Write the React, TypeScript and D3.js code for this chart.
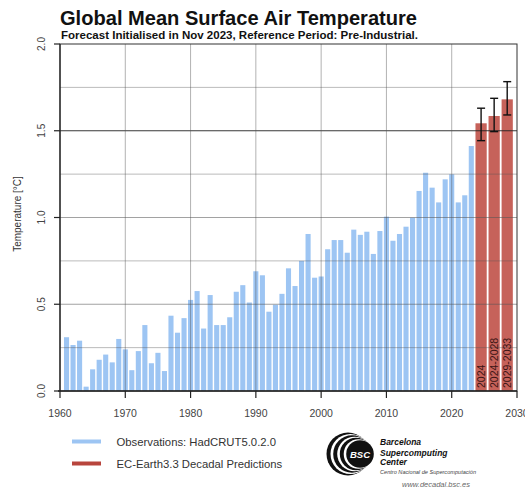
import React from "react";
import * as d3 from "d3";

const obsYears: number[] = d3.range(1961, 2024);
const obsValues: number[] = [
  0.31, 0.265, 0.29, 0.025, 0.125, 0.18, 0.21, 0.165, 0.3, 0.24,
  0.12, 0.23, 0.38, 0.16, 0.22, 0.115, 0.434, 0.336, 0.42, 0.525,
  0.576, 0.36, 0.553, 0.38, 0.38, 0.425, 0.572, 0.61, 0.51, 0.69,
  0.667, 0.457, 0.497, 0.56, 0.707, 0.605, 0.75, 0.905, 0.653, 0.66,
  0.817, 0.87, 0.87, 0.797, 0.93, 0.9, 0.918, 0.79, 0.922, 1.005,
  0.866, 0.905, 0.947, 0.999, 1.153, 1.258, 1.172, 1.087, 1.22, 1.249,
  1.087, 1.128, 1.412,
];

const predLabels: string[] = ["2024", "2024-2028", "2029-2033"];
const predPositions: number[] = [2024.5, 2026.5, 2028.5];
const predValues: number[] = [1.543, 1.585, 1.681];
const predLower: number[] = [1.443, 1.495, 1.591];
const predUpper: number[] = [1.63, 1.687, 1.783];

const xTicks: number[] = [1960, 1970, 1980, 1990, 2000, 2010, 2020, 2030];
const yTicks: number[] = [0, 0.5, 1, 1.5, 2];
const yGrid: number[] = [0.25, 0.5, 0.75, 1, 1.25, 1.5, 1.75];
const xGrid: number[] = [1970, 1980, 1990, 2000, 2010, 2020];

const legendItems: string[] = ["Observations: HadCRUT5.0.2.0", "EC-Earth3.3 Decadal Predictions"];

const FONT = "'Liberation Sans', Arial, Helvetica, sans-serif";
const BLUE = "#9dc5f3";
const RED = "#c6625a";

export default function App() {
  const L = 60, R = 517, T = 44, B = 391;
  const x = d3.scaleLinear().domain([1960, 2030]).range([L, R]);
  const y = d3.scaleLinear().domain([0, 2]).range([B, T]);
  const yearW = x(1961) - x(1960);
  const barW = yearW * 0.78;
  const predW = yearW * 1.72;

  return (
    <svg width={525} height={490} style={{ position: "absolute", left: 0, top: 0, background: "#fff" }} fontFamily={FONT}>
      <rect x={0} y={0} width={525} height={490} fill="#fff" />
      {/* title */}
      <text x={60} y={25} fontSize={20} fontWeight="bold" fill="#111" textLength={357} lengthAdjust="spacingAndGlyphs">Global Mean Surface Air Temperature</text>
      <text x={61} y={38.5} fontSize={10.5} fontWeight="bold" fill="#111" textLength={357} lengthAdjust="spacingAndGlyphs">Forecast Initialised in Nov 2023, Reference Period: Pre-Industrial.</text>

      {/* observation bars */}
      {obsYears.map((yr, i) => (
        <rect key={yr} x={x(yr) - barW / 2} y={y(obsValues[i])} width={barW} height={y(0) - y(obsValues[i])} fill={BLUE} />
      ))}
      {/* prediction bars */}
      {predPositions.map((p, i) => (
        <rect key={"p" + i} x={x(p) - predW / 2} y={y(predValues[i])} width={predW} height={y(0) - y(predValues[i])} fill={RED} />
      ))}

      {/* grid */}
      {yGrid.map((v) => (
        <line key={"yg" + v} x1={L} x2={R} y1={y(v)} y2={y(v)}
          stroke={v === 1.5 ? "#222" : "#555"} strokeOpacity={v === 1.5 ? 0.9 : (v % 0.5 === 0 ? 0.55 : 0.4)} strokeWidth={1} />
      ))}
      {xGrid.map((v) => (
        <line key={"xg" + v} x1={x(v)} x2={x(v)} y1={T} y2={B} stroke="#555" strokeOpacity={0.45} strokeWidth={1} />
      ))}

      {/* error bars */}
      {predPositions.map((p, i) => (
        <g key={"e" + i} stroke="#111" strokeWidth={1.4}>
          <line x1={x(p)} x2={x(p)} y1={y(predLower[i])} y2={y(predUpper[i])} />
          <line x1={x(p) - 4} x2={x(p) + 4} y1={y(predLower[i])} y2={y(predLower[i])} />
          <line x1={x(p) - 4} x2={x(p) + 4} y1={y(predUpper[i])} y2={y(predUpper[i])} />
        </g>
      ))}

      {/* prediction labels */}
      {predPositions.map((p, i) => (
        <text key={"pl" + i} transform={`translate(${x(p) + 3.8},${B - 3}) rotate(-90)`} fontSize={10.5} fill="#3a1414">{predLabels[i]}</text>
      ))}

      {/* frame */}
      <rect x={L} y={T} width={R - L} height={B - T} fill="none" stroke="#333" strokeWidth={1} />
      <line x1={L - 2} x2={R} y1={B} y2={B} stroke="#222" strokeWidth={1.3} />
      <line x1={L} x2={L} y1={T} y2={B} stroke="#222" strokeWidth={1.2} />

      {/* y axis */}
      {yTicks.map((v) => (
        <g key={"yt" + v}>
          <line x1={L - 6} x2={L} y1={y(v)} y2={y(v)} stroke="#222" strokeWidth={1.2} />
          <text transform={`translate(${44.5},${y(v)}) rotate(-90)`} textAnchor="middle" fontSize={10} fill="#444">{d3.format(".1f")(v)}</text>
        </g>
      ))}
      <text transform={`translate(21,214) rotate(-90)`} textAnchor="middle" fontSize={10} fill="#333">Temperature [°C]</text>

      {/* x axis */}
      {xTicks.map((v) => (
        <g key={"xt" + v}>
          <line x1={x(v)} x2={x(v)} y1={B} y2={B + 7} stroke="#222" strokeWidth={1.2} />
          <text x={x(v)} y={416.5} textAnchor="middle" fontSize={10.5} fill="#444">{v}</text>
        </g>
      ))}

      {/* legend */}
      {legendItems.map((t, i) => (
        <g key={"lg" + i}>
          <line x1={72} x2={101} y1={441.5 + i * 22} y2={441.5 + i * 22} stroke={i === 0 ? BLUE : "#b8453d"} strokeWidth={4} />
          <text x={116.5} y={445.5 + i * 22} fontSize={11.3} fill="#333">{t}</text>
        </g>
      ))}

      {/* BSC logo */}
      <g>
        <circle cx={348} cy={454} r={21.5} fill="#111" />
        <circle cx={350.5} cy={454} r={20} fill="#fff" />
        <circle cx={352} cy={454} r={18.8} fill="#111" />
        <circle cx={354.5} cy={454} r={17.3} fill="#fff" />
        <circle cx={356} cy={454} r={16.2} fill="#111" />
        <circle cx={358.5} cy={454} r={14.8} fill="#fff" />
        <circle cx={360} cy={454} r={13.8} fill="#111" />
        <text x={360} y={457.5} textAnchor="middle" fontSize={9.5} fontWeight="bold" fontStyle="italic" fill="#fff">BSC</text>
      </g>
      <text x={380} y={444.5} fontSize={8.5} fontWeight="bold" fontStyle="italic" fill="#111">Barcelona</text>
      <text x={380} y={455.5} fontSize={8.5} fontWeight="bold" fontStyle="italic" fill="#111">Supercomputing</text>
      <text x={380} y={464.5} fontSize={8.5} fontWeight="bold" fontStyle="italic" fill="#111">Center</text>
      <text x={380} y={474} fontSize={5.6} fontStyle="italic" fill="#444">Centro Nacional de Supercomputación</text>
      <text x={402} y={487} fontSize={7.5} fontStyle="italic" fill="#666">www.decadal.bsc.es</text>
    </svg>
  );
}
